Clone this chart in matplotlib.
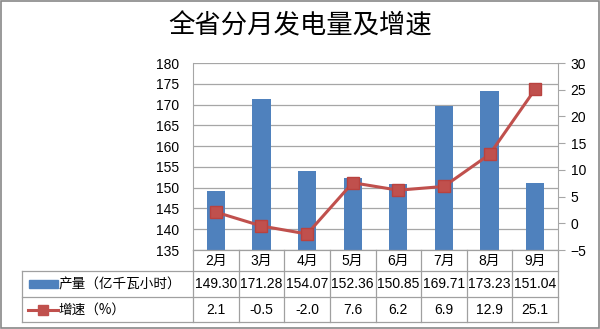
import numpy as np
import matplotlib
matplotlib.use('Agg')
import matplotlib.pyplot as plt
from matplotlib.patches import Rectangle
from matplotlib.lines import Line2D

plt.rcParams['font.family'] = ['Liberation Sans', 'Noto Sans CJK SC', 'DejaVu Sans']

months = ['2月', '3月', '4月', '5月', '6月', '7月', '8月', '9月']
output = [149.30, 171.28, 154.07, 152.36, 150.85, 169.71, 173.23, 151.04]
growth = [2.1, -0.5, -2.0, 7.6, 6.2, 6.9, 12.9, 25.1]
output_labels = ['149.30', '171.28', '154.07', '152.36', '150.85', '169.71', '173.23', '151.04']
growth_labels = ['2.1', '-0.5', '-2.0', '7.6', '6.2', '6.9', '12.9', '25.1']

bar_color = '#4F81BD'
line_color = '#C0504D'
grid_color = '#A6A6A6'
cjk = ['Noto Sans CJK SC', 'DejaVu Sans']

fig = plt.figure(figsize=(6, 3.29), dpi=100)
fig.patches.append(Rectangle((0.002, 0.003), 0.996, 0.994, transform=fig.transFigure,
                             fill=False, edgecolor='#888888', lw=1.2))
fig.text(0.5, 0.92, '全省分月发电量及增速', ha='center', va='center', fontsize=19, family=cjk)

ax = fig.add_axes([0.3217, 0.240, 0.6083, 0.5685])
x = np.arange(len(months))
ax.bar(x, [v - 135 for v in output], bottom=135, width=0.4, color=bar_color, zorder=2)
ax.set_ylim(135, 180)
ax.set_yticks(np.arange(135, 181, 5))
ax.set_xlim(-0.5, len(months) - 0.5)
ax.set_xticks([])
ax.yaxis.grid(True, color=grid_color, lw=0.9)
ax.set_axisbelow(True)
ax.tick_params(axis='y', length=0, labelsize=10, pad=10)
for s in ['top', 'right', 'bottom']:
    ax.spines[s].set_visible(False)
ax.spines['left'].set_color(grid_color)

ax2 = ax.twinx()
ax2.plot(x, growth, color=line_color, lw=2.2, marker='s', markersize=9,
         markerfacecolor=line_color, markeredgecolor='#B9423F', zorder=3)
ax2.set_ylim(-5, 30)
ax2.set_yticks(np.arange(-5, 31, 5))
ax2.tick_params(axis='y', length=5, color=grid_color, labelsize=10, pad=4)
for s in ['top', 'left', 'bottom']:
    ax2.spines[s].set_visible(False)
ax2.spines['right'].set_color(grid_color)

# data table under the axes: x in category units, y in axes fraction
tr = ax.get_xaxis_transform()
h_ax = 187.0
col_px = 365 / 8
def yf(py):
    return (250 - py) / h_ax
def xf(px):
    return -0.5 + (px - 193) / col_px
y_top, y_r1, y_r2, y_bot = yf(250), yf(271), yf(297), yf(322)
x_left = xf(22)
x_right = len(months) - 0.5
tcol = '#A0A0A0'
lines = [
    ([-0.5, x_right], [y_top, y_top]),
    ([x_left, x_right], [y_r1, y_r1]),
    ([x_left, x_right], [y_r2, y_r2]),
    ([x_left, x_right], [y_bot, y_bot]),
    ([x_left, x_left], [y_r1, y_bot]),
]
for i in range(len(months) + 1):
    lines.append(([i - 0.5, i - 0.5], [y_top, y_bot]))
for xs, ys in lines:
    ax.add_line(Line2D(xs, ys, transform=tr, color=tcol, lw=0.9, clip_on=False))

for i, m in enumerate(months):
    ax.text(i, (y_top + y_r1) / 2, m, transform=tr, ha='center', va='center', fontsize=10, clip_on=False)
    ax.text(i, (y_r1 + y_r2) / 2, output_labels[i], transform=tr, ha='center', va='center',
            fontsize=10, clip_on=False)
    ax.text(i, (y_r2 + y_bot) / 2, growth_labels[i], transform=tr, ha='center', va='center',
            fontsize=10, clip_on=False)

# legend keys inside the table
ym1 = (y_r1 + y_r2) / 2
ym2 = (y_r2 + y_bot) / 2
ax.add_patch(Rectangle((xf(29), ym1 - 0.02), xf(58) - xf(29), 0.04, transform=tr,
                       color=bar_color, clip_on=False))
ax.text(xf(58), ym1, '产量（亿千瓦小时）', transform=tr, ha='left', va='center',
        fontsize=9.8, clip_on=False, family=cjk)
ax.add_line(Line2D([xf(28), xf(58)], [ym2, ym2], transform=tr, color=line_color,
                   lw=2.2, clip_on=False))
ax.add_line(Line2D([xf(43)], [ym2], transform=tr, color=line_color, marker='s',
                   markersize=7, clip_on=False))
ax.text(xf(58), ym2, '增速（%）', transform=tr, ha='left', va='center',
        fontsize=9.8, clip_on=False, family=cjk)

fig.savefig('out.png', dpi=100)
